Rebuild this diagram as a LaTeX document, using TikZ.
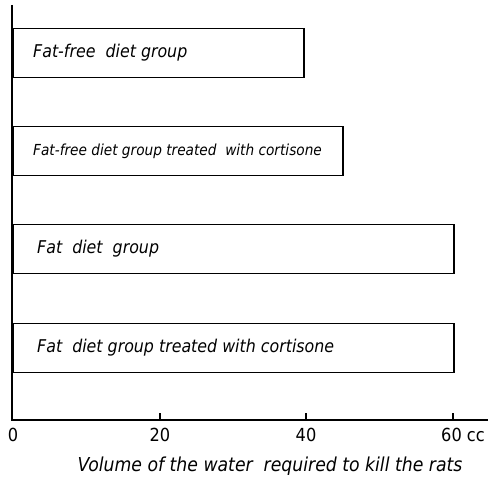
\documentclass[tikz,border=0pt]{standalone}
\usepackage{fontspec}
\newfontfamily\labfont{DejaVu Sans Condensed}
\begin{document}
\begin{tikzpicture}[x=1pt,y=1pt,
  bar/.style={draw=black, line width=1.6pt, minimum height=49pt, inner sep=0pt, anchor=west},
  barlab/.style={anchor=west, inner sep=0pt, font=\labfont\itshape\fontsize{17.6}{20}\selectfont},
  ticklab/.style={inner sep=0pt, font=\labfont\fontsize{18}{20}\selectfont},
  axis/.style={line width=1.5pt}]
\useasboundingbox (0,0) rectangle (500,481);
\coordinate (O) at (12,61);
\coordinate (T) at (12,476);
\coordinate (E) at (488,61);
\draw[axis] (T) -- (O) -- (E);
% bars (7.35 pt per cc)
\node[bar, minimum width=291pt] (b1) at (12,428) {};
\node[bar, minimum width=330pt] (b2) at (12,330) {};
\node[bar, minimum width=441pt] (b3) at (12,232) {};
\node[bar, minimum width=441pt] (b4) at (12,133) {};
\node[barlab] (l1) at ([xshift=21pt]b1.west) {Fat-free\ \ diet group};
\node[barlab, font=\labfont\itshape\fontsize{15.2}{18}\selectfont] (l2) at ([xshift=21pt]b2.west) {Fat-free diet group treated\ \ with cortisone};
\node[barlab] (l3) at ([xshift=25pt]b3.west) {Fat\ \ diet\ \ group};
\node[barlab] (l4) at ([xshift=25pt]b4.west) {Fat\ \ diet group treated with cortisone};
% ticks
\coordinate (t20) at (160,61);
\coordinate (t40) at (306,61);
\coordinate (t60) at (453,61);
\foreach \t in {t20,t40,t60} \draw[line width=1.2pt] (\t) -- ++(0,7);
\node[ticklab] (n0) at (13,46) {0};
\node[ticklab] (n20) at (t20 |- n0) {20};
\node[ticklab] (n40) at (t40 |- n0) {40};
\node[ticklab, anchor=west] (n60) at ([xshift=-12pt]t60 |- n0) {60 cc};
\node[barlab, anchor=center, font=\labfont\itshape\fontsize{19.2}{21}\selectfont] (xt) at (270,15) {Volume of the water\ \ required to kill the rats};
\end{tikzpicture}
\end{document}
